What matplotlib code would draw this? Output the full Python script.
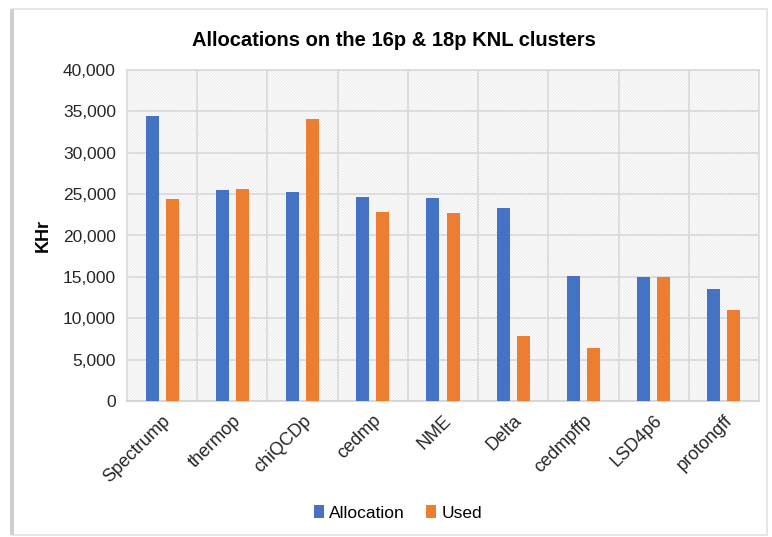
import matplotlib
matplotlib.use('Agg')
from matplotlib import pyplot as plt
from matplotlib.patches import Rectangle
import numpy as np

plt.rcParams['font.family'] = ['Liberation Sans', 'DejaVu Sans']
plt.rcParams['hatch.linewidth'] = 0.5

projects   = ['Spectrump', 'thermop', 'chiQCDp', 'cedmp', 'NME',
              'Delta', 'cedmpffp', 'LSD4p6', 'protongff']
allocation = [34400, 25500, 25300, 24700, 24500, 23300, 15100, 15000, 13500]
used       = [24400, 25600, 34100, 22900, 22700, 7900, 6400, 15000, 11000]
yticks     = [0, 5000, 10000, 15000, 20000, 25000, 30000, 35000, 40000]

blue   = '#4472C4'
orange = '#ED7D31'
grid   = '#d9d9d9'

fig = plt.figure(figsize=(7.72, 5.37), dpi=100)

# card outline with a soft shadow on the left
fig.patches.append(Rectangle((12/772, 1 - 535/537), 755/772, 526/537,
                             transform=fig.transFigure, fill=False,
                             edgecolor='#e2e2e2', linewidth=1.2))
fig.patches.append(Rectangle((10/772, 1 - 535/537), 4/772, 526/537,
                             transform=fig.transFigure, facecolor='#cfcfcf',
                             edgecolor='none'))

ax = fig.add_axes([127/772, 1 - 401/537, 632/772, 331/537])

# hatched plot-area background
ax.add_patch(Rectangle((0, 0), 1, 1, transform=ax.transAxes, facecolor='white',
                       edgecolor='#e3e3e3', linewidth=0, hatch='\\' * 12, zorder=0))

x = np.arange(len(projects))
w = 0.185
off = 0.143
ax.bar(x - off, allocation, w, color=blue, label='Allocation', zorder=3)
ax.bar(x + off, used, w, color=orange, label='Used', zorder=3)

ax.set_xlim(-0.5, len(projects) - 0.5)
ax.set_ylim(0, 40000)
ax.set_yticks(yticks)
ax.set_yticklabels(['{:,}'.format(v) for v in yticks], fontsize=12.5, color='#262626')
ax.set_xticks(x)
ax.set_xticklabels(projects, rotation=45, ha='right', rotation_mode='anchor',
                   fontsize=13, color='#262626')
ax.tick_params(length=0, pad=8)

# gridlines: horizontal at each tick, vertical between categories
for v in yticks[1:]:
    ax.axhline(v, color=grid, linewidth=1.2, zorder=1)
for b in np.arange(0.5, len(projects) - 0.5, 1):
    ax.axvline(b, color=grid, linewidth=1.2, zorder=1)

for s in ['top', 'right', 'left']:
    ax.spines[s].set_color(grid)
    ax.spines[s].set_linewidth(1.2)
ax.spines['bottom'].set_color('#cfcfcf')
ax.spines['bottom'].set_linewidth(1.2)

ax.set_ylabel('KHr', fontsize=13, fontweight='bold', labelpad=8)
fig.text(394/772, 1 - 40/537, 'Allocations on the 16p & 18p KNL clusters',
         fontsize=14.5, fontweight='bold', ha='center', va='center')

fig.legend(loc='center', bbox_to_anchor=(398/772, 1 - 513/537), ncol=2,
           frameon=False, fontsize=12.5, handlelength=0.6, handleheight=0.8,
           handletextpad=0.3, columnspacing=1.2)

fig.savefig('out.png', dpi=100)
